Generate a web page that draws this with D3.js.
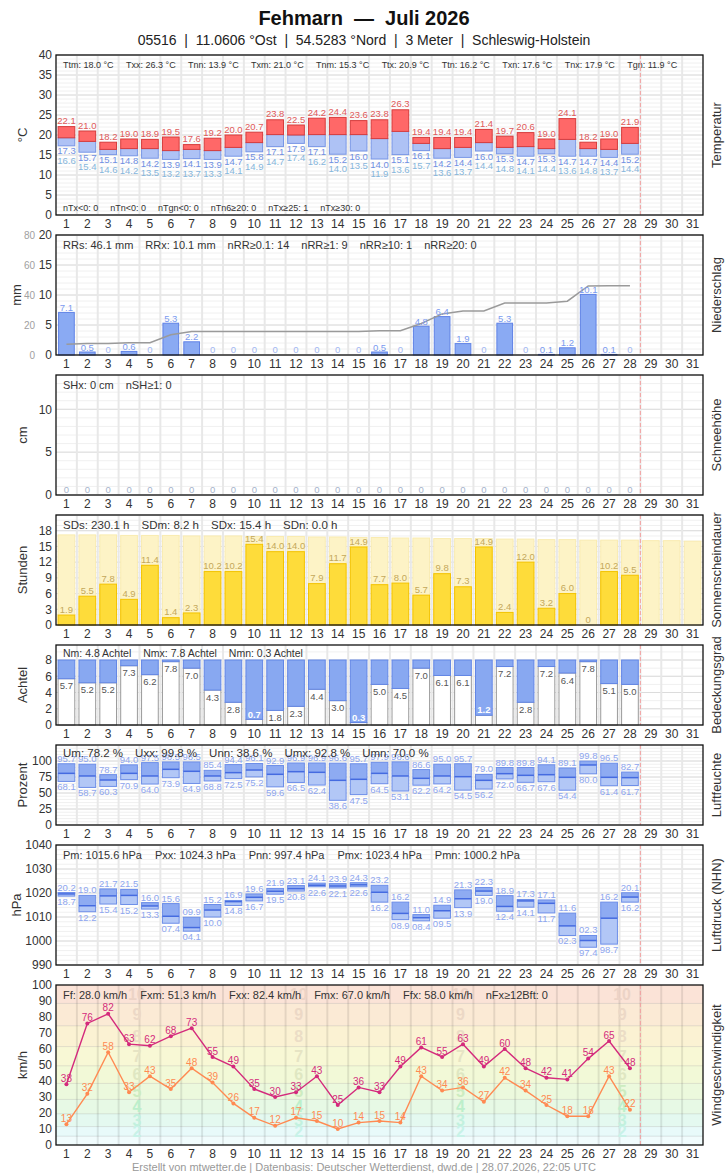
<!DOCTYPE html>
<html><head><meta charset="utf-8">
<script src="https://cdn.jsdelivr.net/npm/d3@7"></script>
<style>body{margin:0;background:#fff;} svg{display:block;font-family:"Liberation Sans",Arial,Helvetica,sans-serif;}</style>
</head><body><svg id="c" width="728" height="1175"></svg>
<script>
// ---------- DATA ----------
const days = d3.range(1, 32);
const dataDays = d3.range(1, 29);
const titleText = "Fehmarn \u00a0\u2014\u00a0 Juli 2026";
const subtitleText = "05516 \u00a0|\u00a0 11.0606 \u00b0Ost \u00a0|\u00a0 54.5283 \u00b0Nord \u00a0|\u00a0 3 Meter \u00a0|\u00a0 Schleswig-Holstein";
const footerText = "Erstellt von mtwetter.de | Datenbasis: Deutscher Wetterdienst, dwd.de | 28.07.2026, 22:05 UTC";

const tMax = [22.1,21.0,18.2,19.0,18.9,19.5,17.6,19.2,20.0,20.7,23.8,22.5,24.2,24.4,23.6,23.8,26.3,19.4,19.4,19.4,21.4,19.7,20.6,19.0,24.1,18.2,19.0,21.9];
const tMin = [17.3,15.7,15.1,14.8,14.2,13.9,14.1,13.9,14.7,15.8,17.1,17.9,17.1,15.2,16.0,14.0,15.1,16.1,14.2,14.4,16.0,15.3,14.7,15.3,14.7,14.7,14.4,15.2];
const tGround = [16.6,15.4,14.6,14.2,13.5,13.2,13.7,13.3,14.1,14.9,14.7,17.4,16.2,14.0,13.5,11.9,13.6,15.7,13.6,13.7,14.4,14.8,14.1,14.4,13.6,14.8,13.7,14.4];
const tMean = [19.3,18.4,16.4,16.6,16.6,16.1,16.4,16.1,16.9,18.1,20.1,20.0,20.1,20.1,20.1,19.1,20.9,17.9,16.6,16.9,18.1,16.9,17.1,16.6,18.9,16.6,16.4,17.9];
const tHeader = ["Ttm: 18.0 \u00b0C","Txx: 26.3 \u00b0C","Tnn: 13.9 \u00b0C","Txm: 21.0 \u00b0C","Tnm: 15.3 \u00b0C","Ttx: 20.9 \u00b0C","Ttn: 16.2 \u00b0C","Txn: 17.6 \u00b0C","Tnx: 17.9 \u00b0C","Tgn: 11.9 \u00b0C"];
const tFooter = ["nTx<0: 0","nTn<0: 0","nTgn<0: 0","nTn6\u226520: 0","nTx\u226525: 1","nTx\u226530: 0"];

const rain = [7.1,0.5,0,0.6,0,5.3,2.2,0,0,0,0,0,0,0,0,0.5,0,4.8,6.4,1.9,0,5.3,0,0.1,1.2,10.1,0.1,0];
const rainHeader = ["RRs: 46.1 mm","RRx: 10.1 mm","nRR\u22650.1: 14","nRR\u22651: 9","nRR\u226510: 1","nRR\u226520: 0"];

const snow = [0,0,0,0,0,0,0,0,0,0,0,0,0,0,0,0,0,0,0,0,0,0,0,0,0,0,0,0];
const snowHeader = ["SHx: 0 cm","nSH\u22651: 0"];

const sun = [1.9,5.5,7.8,4.9,11.4,1.4,2.3,10.2,10.2,15.4,14.0,14.0,7.9,11.7,14.9,7.7,8.0,5.7,9.8,7.3,14.9,2.4,12.0,3.2,6.0,0,10.2,9.5];
const sunPossible = [17.2,17.2,17.2,17.1,17.1,17.1,17.0,17.0,17.0,16.9,16.9,16.9,16.8,16.8,16.7,16.7,16.6,16.6,16.5,16.5,16.5,16.4,16.4,16.3,16.3,16.2,16.2,16.2,16.1,16.1,16.0];
const sunHeader = ["SDs: 230.1 h","SDm: 8.2 h","SDx: 15.4 h","SDn: 0.0 h"];

const cloud = [5.7,5.2,5.2,7.3,6.2,7.8,7.0,4.3,2.8,0.7,1.8,2.3,4.4,3.0,0.3,5.0,4.5,7.0,6.1,6.1,1.2,7.2,2.8,7.2,6.4,7.8,5.1,5.0];
const cloudHeader = ["Nm: 4.8 Achtel","Nmx: 7.8 Achtel","Nmn: 0.3 Achtel"];

const rhMax = [95.7,95.0,78.7,94.0,97.5,98.5,98.5,85.4,94.4,96.1,92.9,96.9,96.9,96.6,95.7,97.9,98.6,86.6,95.0,95.7,79.0,89.8,89.8,94.1,89.1,99.8,96.5,82.7];
const rhMin = [68.1,58.7,60.3,70.9,64.0,73.9,64.9,68.8,72.5,75.2,59.6,66.5,62.4,38.6,47.5,64.5,53.1,62.2,64.2,54.5,56.2,72.0,66.7,67.6,54.4,80.0,61.4,61.7];
const rhMean = [80.7,76.6,70.3,80.7,76.6,87.0,83.9,76.6,81.8,85.9,79.2,83.3,82.3,69.8,71.4,80.7,76.6,72.9,76.6,75.5,69.8,80.2,77.6,78.6,74.5,93.8,74.5,74.0];
const rhHeader = ["Um: 78.2 %","Uxx: 99.8 %","Unn: 38.6 %","Umx: 92.8 %","Umn: 70.0 %"];

const pMax = [1020.2,1019.0,1021.7,1021.5,1016.0,1015.6,1009.9,1015.2,1016.9,1019.6,1021.9,1023.1,1024.1,1023.9,1024.3,1023.2,1016.2,1011.0,1014.9,1021.3,1022.3,1018.9,1017.3,1017.1,1011.6,1002.3,1016.2,1020.1];
const pMin = [1018.7,1012.2,1015.4,1015.2,1013.3,1007.4,1004.1,1010.0,1014.8,1016.7,1019.5,1020.8,1022.6,1022.1,1022.6,1016.2,1008.9,1008.4,1009.5,1013.9,1019.0,1012.4,1014.1,1011.7,1002.3,997.4,998.7,1016.2];
const pMean = [1019.6,1014.7,1018.8,1019.0,1014.6,1010.3,1005.6,1012.9,1016.4,1018.2,1020.7,1021.8,1023.2,1022.9,1023.4,1020.3,1011.5,1009.7,1012.6,1017.6,1020.8,1014.4,1016.7,1015.7,1006.3,1000.2,1009.5,1018.3];
const pHeader = ["Pm: 1015.6 hPa","Pxx: 1024.3 hPa","Pnn: 997.4 hPa","Pmx: 1023.4 hPa","Pmn: 1000.2 hPa"];

const gust = [38,76,82,63,62,68,73,55,49,35,30,33,43,25,36,33,49,61,55,63,49,60,48,42,41,54,65,48];
const wind = [13,32,58,33,43,35,48,39,26,17,12,17,15,10,14,15,14,43,34,36,27,42,34,25,18,18,43,22];
const windHeader = ["Ff: 28.0 km/h","Fxm: 51.3 km/h","Fxx: 82.4 km/h","Fmx: 67.0 km/h","Ffx: 58.0 km/h","nFx\u226512Bft: 0"];
const bftBounds = [0,5.5,11.5,19.5,28.5,38.5,49.5,61.5,74.5,88.5,100];
const bftColors = ["#f1fcfd","#e8fafa","#e4f9f0","#e7f9e5","#ecf9dd","#f2f9d7","#f8f8d5","#fbf2d3","#fbead5","#fbe3d7"];
const bftNumColors = ["","#c8f2e8","#c2f1de","#bcefcb","#cdecc0","#dfe7c2","#e6e4c4","#ebddc6","#ecd8c6","#ecd3c6"];

// ---------- LAYOUT ----------
const X0 = 56, X1 = 703;
const svg = d3.select("#c");
const x = d3.scaleBand().domain(days).range([X0, X1]).paddingInner(0.2).paddingOuter(0.1);
const step = x.step(), bw = x.bandwidth();
const cx = d => x(d) + bw / 2;

svg.append("text").attr("x", 364).attr("y", 25).attr("text-anchor", "middle")
  .attr("font-size", 20).attr("font-weight", "bold").attr("fill", "#111").text(titleText);
svg.append("text").attr("x", 364).attr("y", 45).attr("text-anchor", "middle")
  .attr("font-size", 14).attr("fill", "#222").text(subtitleText);
svg.append("text").attr("x", 364).attr("y", 1171).attr("text-anchor", "middle")
  .attr("font-size", 11).attr("fill", "#999").text(footerText);

function panel(cfg) {
  const y = d3.scaleLinear().domain(cfg.domain).range([cfg.bottom, cfg.top]);
  const g = svg.append("g");
  return { y, cfg, bg: g.append("g"), marks: g.append("g"), over: g.append("g") };
}
function gridH(P, minor, major, colMinor = "#f0f0f0", colMajor = "#dcdcdc") {
  P.bg.selectAll(null).data(minor).join("line")
    .attr("x1", X0).attr("x2", X1).attr("y1", d => P.y(d)).attr("y2", d => P.y(d))
    .attr("stroke", colMinor).attr("stroke-width", 1);
  P.bg.selectAll(null).data(major).join("line")
    .attr("x1", X0).attr("x2", X1).attr("y1", d => P.y(d)).attr("y2", d => P.y(d))
    .attr("stroke", colMajor).attr("stroke-width", 1);
}
function gridV(P, col = "#e8e8e8", w = 2) {
  P.bg.selectAll(null).data(d3.range(1, 31)).join("line")
    .attr("x1", i => X0 + i * step).attr("x2", i => X0 + i * step)
    .attr("y1", P.cfg.top).attr("y2", P.cfg.bottom)
    .attr("stroke", col).attr("stroke-width", w);
}
function header(P, items, fs, baseline, gap = 12.5) {
  let px = 63;
  items.forEach(t => {
    const el = P.over.append("text").attr("x", px).attr("y", baseline)
      .attr("font-size", fs).attr("fill", "#333").text(t);
    px += el.node().getComputedTextLength() + gap;
  });
}
function finish(P, ticks, unit, unitX, right) {
  const c = P.cfg;
  P.over.append("line").attr("x1", X0 + 28 * step).attr("x2", X0 + 28 * step)
    .attr("y1", c.top).attr("y2", c.bottom).attr("stroke", "#f2a0a0")
    .attr("stroke-width", 1).attr("stroke-dasharray", "4,2");
  P.over.append("rect").attr("x", X0).attr("y", c.top).attr("width", X1 - X0)
    .attr("height", c.bottom - c.top).attr("fill", "none").attr("stroke", "#111").attr("stroke-width", 1.3);
  const ax = P.over.append("g").attr("transform", `translate(${X0},0)`)
    .call(d3.axisLeft(P.y).tickValues(ticks).tickSize(0).tickPadding(4).tickFormat(d3.format("d")));
  ax.select(".domain").remove();
  ax.selectAll("text").attr("font-size", 12).attr("fill", "#333").attr("font-family", null);
  const bx = P.over.append("g").attr("transform", `translate(0,${c.bottom})`)
    .call(d3.axisBottom(x).tickSize(0).tickPadding(4.5));
  bx.select(".domain").remove();
  bx.selectAll("text").attr("font-size", 12).attr("fill", "#333").attr("font-family", null);
  const mid = (c.top + c.bottom) / 2;
  P.over.append("text").attr("transform", `translate(${unitX},${mid}) rotate(-90)`)
    .attr("text-anchor", "middle").attr("dy", "0.35em").attr("font-size", 13).attr("fill", "#333").text(unit);
  P.over.append("text").attr("transform", `translate(716,${mid}) rotate(-90)`)
    .attr("text-anchor", "middle").attr("dy", "0.35em").attr("font-size", 13).attr("fill", "#333").text(right);
}
const lbl = (sel, fs, col) => sel.attr("text-anchor", "middle").attr("font-size", fs).attr("fill", col);

// ---------- TEMPERATURE ----------
{
  const P = panel({ top: 55, bottom: 215, domain: [0, 40] });
  gridH(P, d3.range(0, 41, 1), d3.range(0, 41, 5)); gridV(P);
  const y = P.y;
  P.marks.selectAll(null).data(dataDays).join("rect")
    .attr("x", d => x(d)).attr("width", bw)
    .attr("y", (d, i) => y(tMean[i])).attr("height", (d, i) => y(tMin[i]) - y(tMean[i]))
    .attr("fill", "#aec2f5").attr("stroke", "#7896e6").attr("stroke-width", 1);
  P.marks.selectAll(null).data(dataDays).join("rect")
    .attr("x", d => x(d)).attr("width", bw)
    .attr("y", (d, i) => y(tMax[i])).attr("height", (d, i) => y(tMean[i]) - y(tMax[i]))
    .attr("fill", "#ff6868").attr("stroke", "#d63c3c").attr("stroke-width", 1);
  lbl(P.marks.selectAll(null).data(dataDays).join("text"), 9.5, "#e05a5a")
    .attr("x", d => cx(d)).attr("y", (d, i) => y(tMax[i]) - 2.5).text((d, i) => tMax[i].toFixed(1));
  lbl(P.marks.selectAll(null).data(dataDays).join("text"), 9.5, "#6f8fe3")
    .attr("x", d => cx(d)).attr("y", (d, i) => y(tMin[i]) + 8.5).text((d, i) => tMin[i].toFixed(1));
  lbl(P.marks.selectAll(null).data(dataDays).join("text"), 9.5, "#86b6dc")
    .attr("x", d => cx(d)).attr("y", (d, i) => y(tMin[i]) + 18).text((d, i) => tGround[i].toFixed(1));
  header(P, tHeader, 9, 68, 12.4);
  header(P, tFooter, 9, 211, 12);
  finish(P, d3.range(0, 41, 5), "\u00b0C", 22, "Temperatur");
}

// ---------- PRECIPITATION ----------
{
  const P = panel({ top: 235, bottom: 355, domain: [0, 20] });
  gridH(P, d3.range(0, 21, 1), d3.range(0, 21, 5)); gridV(P);
  const y = P.y;
  const y2 = d3.scaleLinear().domain([0, 80]).range([355, 235]);
  P.marks.selectAll(null).data(dataDays.filter((d, i) => rain[i] > 0)).join("rect")
    .attr("x", d => x(d) + 0.5).attr("width", bw - 1)
    .attr("y", d => y(rain[d - 1])).attr("height", d => y(0) - y(rain[d - 1]))
    .attr("fill", "#8aaaf3").attr("stroke", "#5f82e6").attr("stroke-width", 1);
  const cum = d3.cumsum(rain);
  P.marks.append("path").datum(dataDays)
    .attr("d", d3.line().x(d => cx(d)).y(d => y2(cum[d - 1])))
    .attr("fill", "none").attr("stroke", "#9a9a9a").attr("stroke-width", 1.5);
  lbl(P.marks.selectAll(null).data(dataDays).join("text"), 9.5, d => rain[d - 1] > 0 ? "#7b9bf0" : "#a3b8f2")
    .attr("x", d => cx(d)).attr("y", d => rain[d - 1] > 0 ? y(rain[d - 1]) - 1.5 : 353)
    .text(d => rain[d - 1] > 0 ? rain[d - 1].toFixed(1) : "0");
  header(P, rainHeader, 11, 249, 12);
  finish(P, d3.range(0, 21, 5), "mm", 16, "Niederschlag");
  const ax2 = P.over.append("g").attr("transform", "translate(39,0)")
    .call(d3.axisLeft(y2).tickValues(d3.range(0, 81, 20)).tickSize(0).tickPadding(4));
  ax2.select(".domain").remove();
  ax2.selectAll("text").attr("font-size", 10).attr("fill", "#a0a0a0").attr("font-family", null);
}

// ---------- SNOW ----------
{
  const P = panel({ top: 375, bottom: 495, domain: [0, 14] });
  gridH(P, d3.range(0, 15, 1), d3.range(0, 15, 5)); gridV(P);
  lbl(P.marks.selectAll(null).data(dataDays).join("text"), 9.5, "#a6b4cc")
    .attr("x", d => cx(d)).attr("y", d => P.y(snow[d - 1]) - 2).text(d => snow[d - 1]);
  header(P, snowHeader, 11, 389, 12);
  finish(P, [0, 5, 10], "cm", 22, "Schneeh\u00f6he");
}

// ---------- SUNSHINE ----------
{
  const P = panel({ top: 515, bottom: 625, domain: [0, 21] });
  gridH(P, d3.range(0, 22, 1), d3.range(0, 22, 3)); gridV(P);
  const y = P.y;
  P.marks.selectAll(null).data(days).join("rect")
    .attr("x", d => x(d)).attr("width", bw)
    .attr("y", d => y(sunPossible[d - 1])).attr("height", d => y(0) - y(sunPossible[d - 1]))
    .attr("fill", "#fdf3c6").attr("stroke", "#f9ebb0").attr("stroke-width", 1);
  P.marks.selectAll(null).data(dataDays.filter((d, i) => sun[i] > 0)).join("rect")
    .attr("x", d => x(d)).attr("width", bw)
    .attr("y", d => y(sun[d - 1])).attr("height", d => y(0) - y(sun[d - 1]))
    .attr("fill", "#fedc3a").attr("stroke", "#f3c300").attr("stroke-width", 1);
  lbl(P.marks.selectAll(null).data(dataDays).join("text"), 9.5, "#c4a85a")
    .attr("x", d => cx(d)).attr("y", d => sun[d - 1] > 0 ? y(sun[d - 1]) - 2.3 : 623)
    .text(d => sun[d - 1] > 0 ? sun[d - 1].toFixed(1) : "0");
  header(P, sunHeader, 11.5, 529, 12);
  finish(P, d3.range(0, 19, 3), "Stunden", 22, "Sonnenscheindauer");
}

// ---------- CLOUD ----------
{
  const P = panel({ top: 645, bottom: 725, domain: [0, 9.85] });
  gridH(P, d3.range(0, 10, 1), d3.range(0, 9, 2)); gridV(P);
  const y = P.y;
  P.marks.selectAll(null).data(dataDays).join("rect")
    .attr("x", d => x(d)).attr("width", bw)
    .attr("y", d => y(cloud[d - 1])).attr("height", d => y(0) - y(cloud[d - 1]))
    .attr("fill", "#fff").attr("stroke", "#9a9a9a").attr("stroke-width", 1);
  P.marks.selectAll(null).data(dataDays).join("rect")
    .attr("x", d => x(d)).attr("width", bw)
    .attr("y", y(8)).attr("height", d => y(cloud[d - 1]) - y(8))
    .attr("fill", "#88a8f1").attr("stroke", "#6286e6").attr("stroke-width", 1);
  lbl(P.marks.selectAll(null).data(dataDays).join("text"), 9.5, d => cloud[d - 1] < 1.5 ? "#fff" : "#555")
    .attr("font-weight", d => cloud[d - 1] < 1.5 ? "bold" : null)
    .attr("x", d => cx(d)).attr("y", d => cloud[d - 1] < 1.5 ? y(cloud[d - 1]) - 1.8 : y(cloud[d - 1]) + 10.5)
    .text(d => cloud[d - 1].toFixed(1));
  header(P, cloudHeader, 10.5, 656.5, 12);
  finish(P, d3.range(0, 9, 2), "Achtel", 22, "Bedeckungsgrad");
}

// ---------- box helper ----------
function boxes(P, mx, mn, me, fmt) {
  const y = P.y;
  P.marks.selectAll(null).data(dataDays).join("rect")
    .attr("x", d => x(d)).attr("width", bw)
    .attr("y", d => y(me[d - 1])).attr("height", d => y(mn[d - 1]) - y(me[d - 1]))
    .attr("fill", "#b2c7f6");
  P.marks.selectAll(null).data(dataDays).join("rect")
    .attr("x", d => x(d)).attr("width", bw)
    .attr("y", d => y(mx[d - 1])).attr("height", d => y(me[d - 1]) - y(mx[d - 1]))
    .attr("fill", "#8eabf2");
  P.marks.selectAll(null).data(dataDays).join("rect")
    .attr("x", d => x(d)).attr("width", bw)
    .attr("y", d => y(mx[d - 1])).attr("height", d => y(mn[d - 1]) - y(mx[d - 1]))
    .attr("fill", "none").attr("stroke", "#6d8ee8").attr("stroke-width", 1);
  P.marks.selectAll(null).data(dataDays).join("line")
    .attr("x1", d => x(d)).attr("x2", d => x(d) + bw)
    .attr("y1", d => y(me[d - 1])).attr("y2", d => y(me[d - 1]))
    .attr("stroke", "#456be0").attr("stroke-width", 1.5);
  lbl(P.marks.selectAll(null).data(dataDays).join("text"), 9.5, "#8ea6ef")
    .attr("x", d => cx(d)).attr("y", d => y(mx[d - 1]) - 2).text(d => fmt(mx[d - 1]));
  lbl(P.marks.selectAll(null).data(dataDays).join("text"), 9.5, "#8ea6ef")
    .attr("x", d => cx(d)).attr("y", d => y(mn[d - 1]) + 9).text(d => fmt(mn[d - 1]));
}

// ---------- HUMIDITY ----------
{
  const P = panel({ top: 745, bottom: 825, domain: [0, 125] });
  gridH(P, d3.range(0, 126, 5), d3.range(0, 101, 25)); gridV(P);
  boxes(P, rhMax, rhMin, rhMean, v => v.toFixed(1));
  header(P, rhHeader, 11.5, 757, 12);
  finish(P, d3.range(0, 101, 25), "Prozent", 22, "Luftfeuchte");
}

// ---------- PRESSURE ----------
{
  const P = panel({ top: 845, bottom: 965, domain: [990, 1040] });
  gridH(P, d3.range(990, 1041, 2), d3.range(990, 1041, 10)); gridV(P);
  const pf = v => { const r = Math.round(v * 10) / 10 % 100; return (r < 10 ? "0" : "") + r.toFixed(1); };
  boxes(P, pMax, pMin, pMean, pf);
  header(P, pHeader, 11, 859, 13);
  finish(P, d3.range(990, 1041, 10), "hPa", 16, "Luftdruck (NHN)");
}

// ---------- WIND ----------
{
  const P = panel({ top: 985, bottom: 1145, domain: [0, 100] });
  const y = P.y;
  const bands = d3.range(bftBounds.length - 1);
  P.bg.selectAll(null).data(bands).join("rect")
    .attr("x", X0).attr("width", X1 - X0)
    .attr("y", i => y(bftBounds[i + 1])).attr("height", i => y(bftBounds[i]) - y(bftBounds[i + 1]))
    .attr("fill", i => bftColors[i]);
  P.bg.selectAll(null).data(bftBounds.slice(1, -1)).join("line")
    .attr("x1", X0).attr("x2", X1).attr("y1", d => y(d)).attr("y2", d => y(d))
    .attr("stroke", "rgba(0,0,0,0.1)").attr("stroke-width", 1);
  gridV(P, "rgba(0,0,0,0.09)", 2);
  const quarters = [0, 1, 2, 3].map(q => X0 + (q + 0.5) * (X1 - X0) / 4);
  quarters.forEach(qx => {
    P.bg.selectAll(null).data(bands.slice(1)).join("text")
      .attr("x", qx).attr("y", i => (y(bftBounds[i]) + y(bftBounds[i + 1])) / 2)
      .attr("dy", "0.36em").attr("text-anchor", "middle").attr("font-size", 16).attr("font-weight", "bold")
      .attr("fill", i => bftNumColors[i]).text(i => i + 1);
  });
  const series = [{ v: wind, c: "#ff8a52" }, { v: gust, c: "#d42a7c" }];
  series.forEach(s => {
    P.marks.append("path").datum(dataDays)
      .attr("d", d3.line().x(d => cx(d)).y(d => y(s.v[d - 1])))
      .attr("fill", "none").attr("stroke", s.c).attr("stroke-width", 1.4);
    P.marks.selectAll(null).data(dataDays).join("circle")
      .attr("cx", d => cx(d)).attr("cy", d => y(s.v[d - 1])).attr("r", 2).attr("fill", s.c);
    lbl(P.marks.selectAll(null).data(dataDays).join("text"), 10, s.c)
      .attr("x", d => cx(d)).attr("y", d => y(s.v[d - 1]) - 2.5).text(d => s.v[d - 1]);
  });
  header(P, windHeader, 11, 999, 13);
  finish(P, d3.range(0, 101, 10), "km/h", 22, "Windgeschwindigkeit");
}
</script></body></html>
